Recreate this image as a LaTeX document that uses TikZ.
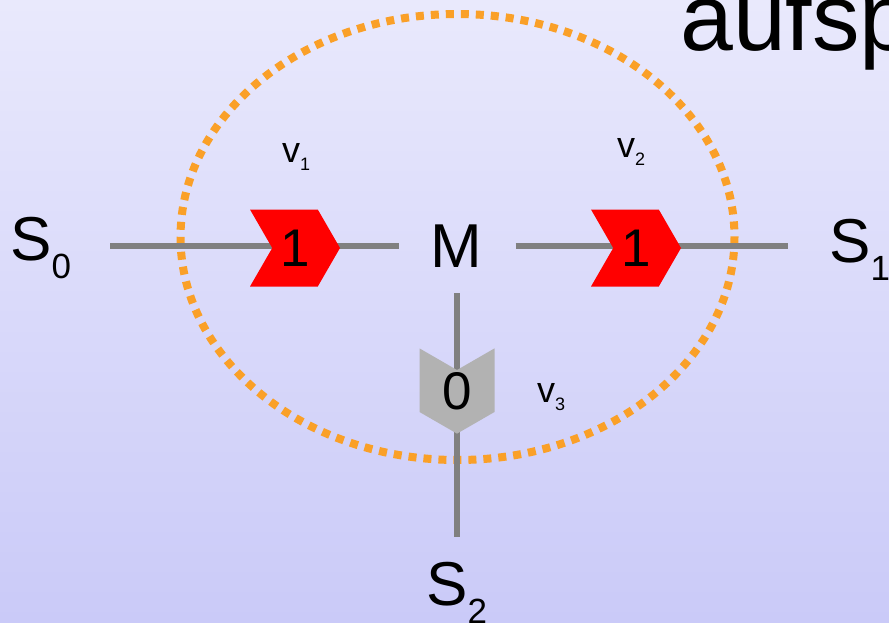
\documentclass[tikz,border=0pt]{standalone}
\usepackage{fontspec}
\setmainfont{Liberation Sans}
\usetikzlibrary{shapes.symbols}
\definecolor{bgtop}{RGB}{233,233,252}
\definecolor{bgbot}{RGB}{202,202,248}
\definecolor{halo}{RGB}{250,160,40}
\newcommand{\stsub}[1]{\raisebox{-18pt}{\fontsize{35}{35}\selectfont #1}}
\newcommand{\vsub}[1]{\raisebox{-8pt}{\fontsize{18}{18}\selectfont #1}}

\begin{document}
\begin{tikzpicture}[
    x=1pt, y=-1pt,
    lbl/.style={inner sep=0pt, anchor=base west, font=\fontsize{62}{62}\selectfont},
    vlbl/.style={inner sep=0pt, anchor=base west, font=\fontsize{36}{36}\selectfont},
    wire/.style={draw=gray, line width=6pt},
    flag/.style={signal, signal pointer angle=120, inner sep=0pt, font=\fontsize{53}{53}\selectfont},
    ring/.style={draw=halo, line width=8pt, dash pattern=on 8pt off 7pt}
]
\useasboundingbox (0,0) rectangle (889,622);
\shade[top color=bgtop, bottom color=bgbot] (0,0) rectangle (889,622);

\node[inner sep=0pt, anchor=base west, font=\fontsize{95}{95}\selectfont] (title) at (680,50) {aufsp};

% stations and the middle
\node[lbl] (S0) at (10,260) {S\stsub{0}};
\node[lbl] (S1) at (829,262) {S\stsub{1}};
\node[lbl] (S2) at (426,605) {S\stsub{2}};
\node[lbl, anchor=base] (M) at (456.5,267) {M};

\node[vlbl] (v1) at (282,162) {v\vsub{1}};
\node[vlbl] (v2) at (617,157) {v\vsub{2}};
\node[vlbl] (v3) at (537,402) {v\vsub{3}};

\draw[ring] (457.5,237) ellipse [x radius=277, y radius=223];

\draw[wire, shorten <=39pt, shorten >=31pt] (S0.east |- M) -- (M.west);
\draw[wire, shorten <=33pt, shorten >=41pt] (M.east) -- (S1.west |- M);
\draw[wire, shorten <=26pt, shorten >=25pt] (M.south) -- (M.south |- S2.north);

% counters on the links
\node[flag, fill=red, signal to=east, signal from=west, minimum width=90pt, minimum height=77pt] (c1) at (295,248) {1};
\node[flag, fill=red, signal to=east, signal from=west, minimum width=90pt, minimum height=77pt] (c2) at (636,248) {1};
\node[flag, fill=gray!60, signal to=south, signal from=north, minimum width=75pt, minimum height=59pt] (c3) at (457,391) {0};
\end{tikzpicture}
\end{document}
